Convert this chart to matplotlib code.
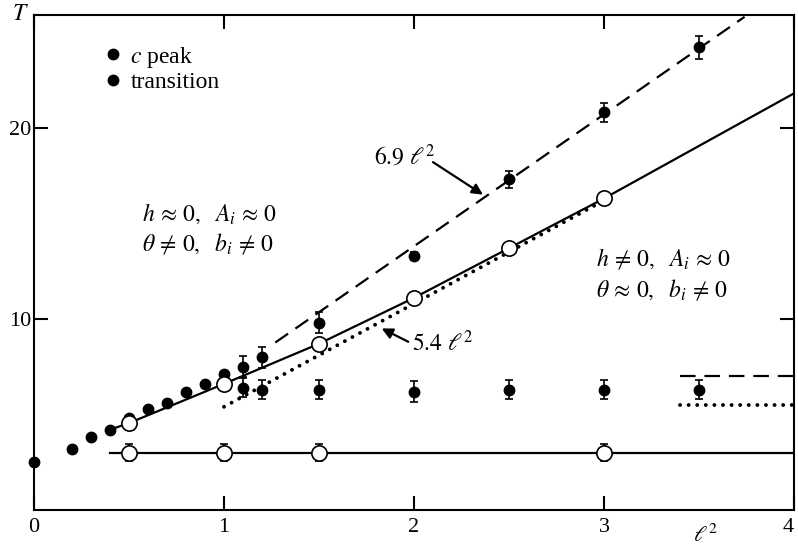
import matplotlib
matplotlib.use("Agg")
import matplotlib.pyplot as plt
import numpy as np
from matplotlib.lines import Line2D

plt.rcParams['font.family'] = ['Liberation Serif', 'DejaVu Serif']
plt.rcParams['mathtext.fontset'] = 'stix'

# c-peak data (filled circles, upper branch)
peak_x = [0.0, 0.2, 0.3, 0.4, 0.5, 0.6, 0.7, 0.8, 0.9, 1.0, 1.1, 1.2, 1.5, 2.0, 2.5, 3.0, 3.5]
peak_y = [2.5, 3.2, 3.8, 4.2, 4.8, 5.3, 5.6, 6.2, 6.6, 7.1, 7.5, 8.0, 9.8, 13.3, 17.3, 20.8, 24.2]
peak_err = [0, 0, 0, 0, 0, 0, 0, 0, 0, 0, 0.55, 0.55, 0.55, 0.2, 0.45, 0.5, 0.6]

# transition data (filled circles, lower branch)
trans_x = [1.1, 1.2, 1.5, 2.0, 2.5, 3.0, 3.5]
trans_y = [6.4, 6.3, 6.3, 6.2, 6.3, 6.3, 6.3]
trans_err = [0.5, 0.5, 0.5, 0.55, 0.5, 0.5, 0.5]

# open circles on the solid curve
open_x = [0.5, 1.0, 1.5, 2.0, 2.5, 3.0]
open_y = [4.55, 6.6, 8.7, 11.1, 13.7, 16.3]

# solid curve through open circles
curve_x = [0.4, 0.5, 1.0, 1.5, 2.0, 2.5, 3.0, 4.0]
curve_y = [4.2, 4.55, 6.6, 8.7, 11.1, 13.7, 16.3, 21.8]

# lower open circles with flat line
low_x = [0.5, 1.0, 1.5, 3.0]
low_y = [3.0, 3.0, 3.0, 3.0]
low_err = [0.45, 0.45, 0.45, 0.45]
low_line_x = [0.4, 4.0]
low_line_y = [3.0, 3.0]

# fitted slopes
slope_dash = 6.9
dash_range = [1.27, 3.74]
slope_dot = 5.4
dot_range = [1.0, 3.0]

# right-side horizontal markers
right_range = [3.4, 4.0]
right_dash_y = 7.0
right_dot_y = 5.5

# tick labels
x_ticks = [0, 1, 2, 3, 4]
x_tick_labels = ['0', '1', '2', '3', '4']
y_ticks = [10, 20]
y_tick_labels = ['10', '20']

DASH = (7, 4)
DOT = (0, (0.01, 2.2))

fig = plt.figure(figsize=(7.98, 5.5), dpi=100)
ax = fig.add_axes([34/798, 40/550, (794-34)/798, (510-15)/550])
ax.set_xlim(0, 4)
ax.set_ylim(0, 25.9)

# fit lines
xd = np.array(dash_range)
ax.plot(xd, slope_dash * xd, color='black', lw=1.6, dashes=DASH)
xdot = np.array(dot_range)
ax.plot(xdot, slope_dot * xdot, color='black', lw=2.8, linestyle=DOT,
        dash_capstyle='round')
ax.plot(curve_x, curve_y, color='black', lw=1.6)
ax.plot(low_line_x, low_line_y, color='black', lw=1.6)

ax.plot(right_range, [right_dash_y]*2, color='black', lw=1.6, dashes=DASH)
ax.plot(right_range, [right_dot_y]*2, color='black', lw=2.8, linestyle=DOT,
        dash_capstyle='round')

# data points
ax.errorbar(peak_x, peak_y, yerr=peak_err, fmt='o', color='black', ms=7.5,
            capsize=3, elinewidth=1.2, capthick=1.2, clip_on=False, zorder=4)
ax.errorbar(trans_x, trans_y, yerr=trans_err, fmt='o', color='black', ms=7.5,
            capsize=3, elinewidth=1.2, capthick=1.2, zorder=4)
ax.plot(open_x, open_y, 'o', ms=11, mfc='white', mec='black', mew=1.2, zorder=5)
ax.errorbar(low_x, low_y, yerr=low_err, fmt='o', ms=11, mfc='white', mec='black',
            mew=1.2, color='black', capsize=3, elinewidth=1.2, capthick=1.2, zorder=5)

# annotations
ax.text(1.95, 18.5, r'$6.9\ \ell^2$', fontsize=17, ha='center', va='center')
ax.annotate('', xy=(2.363, 16.5), xytext=(2.1, 18.2),
            arrowprops=dict(arrowstyle='-|>', color='black', lw=1.6,
                            shrinkA=0, shrinkB=0, mutation_scale=16))
ax.text(1.99, 8.7, r'$5.4\ \ell^2$', fontsize=17, ha='left', va='center')
ax.annotate('', xy=(1.83, 9.5), xytext=(1.97, 8.8),
            arrowprops=dict(arrowstyle='-|>', color='black', lw=1.6,
                            shrinkA=0, shrinkB=0, mutation_scale=16))

ax.text(0.57, 15.5, r'$h\,\approx\,0,\ \ A_i\,\approx\,0$', fontsize=17, va='center')
ax.text(0.57, 13.9, r'$\theta\,\neq\,0,\ \ b_i\,\neq\,0$', fontsize=17, va='center')
ax.text(2.96, 13.1, r'$h\,\neq\,0,\ \ A_i\,\approx\,0$', fontsize=17, va='center')
ax.text(2.96, 11.5, r'$\theta\,\approx\,0,\ \ b_i\,\neq\,0$', fontsize=17, va='center')

# legend
handles = [Line2D([], [], marker='o', color='black', ls='none', ms=7.5),
           Line2D([], [], marker='o', color='black', ls='none', ms=7.5)]
ax.legend(handles, [r'$c$ peak', 'transition'], loc='upper left',
          bbox_to_anchor=(0.088, 0.94), frameon=False, fontsize=17,
          handletextpad=0.25, labelspacing=0.08, handlelength=1.0,
          borderpad=0, borderaxespad=0)

# ticks
ax.set_xticks(x_ticks)
ax.set_xticklabels(x_tick_labels)
ax.set_yticks(y_ticks)
ax.set_yticklabels(y_tick_labels)
ax.tick_params(direction='in', length=10, width=1.5, top=True, right=True,
               labelsize=16, pad=6)
ax.tick_params(axis='y', pad=2)
ax.get_xticklabels()[-1].set_horizontalalignment('right')
for s in ax.spines.values():
    s.set_linewidth(1.5)

fig.text(20/798, 1 - 15/550, r'$T$', fontsize=17, ha='center', va='center')
fig.text(705/798, 1 - 536/550, r'$\ell^2$', fontsize=16, ha='center', va='center')

fig.savefig('out.png', dpi=100)
